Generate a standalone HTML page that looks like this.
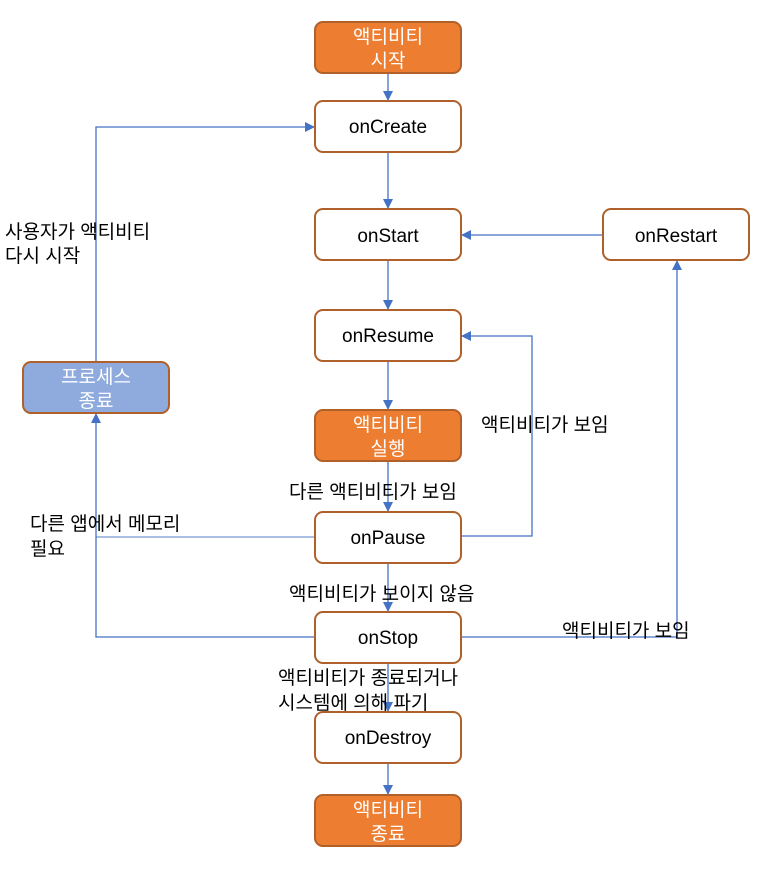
<!DOCTYPE html>
<html><head><meta charset="utf-8"><style>
html,body{margin:0;padding:0;background:#fff;}
svg{display:block;font-family:"Liberation Sans","Noto Sans CJK KR","NanumGothic",sans-serif;}
.b{stroke:#B0602A;stroke-width:2;}
.w{fill:#fff;}
.o{fill:#ED7D31;}
.p{fill:#8FAADC;}
.l{stroke:#4472C4;stroke-width:1.3;fill:none;}
.t{font-size:19px;fill:#000;}
.tw{font-size:19px;fill:#fff;}
</style></head><body>
<svg width="768" height="871" viewBox="0 0 768 871">
<defs><marker id="a" viewBox="0 0 10 10" refX="9" refY="5" markerWidth="10" markerHeight="10" markerUnits="userSpaceOnUse" orient="auto"><path d="M0,0L10,5L0,10z" fill="#4472C4"/></marker></defs>
<!-- connectors -->
<line class="l" x1="388" y1="73" x2="388" y2="100" marker-end="url(#a)"/>
<line class="l" x1="388" y1="152" x2="388" y2="208" marker-end="url(#a)"/>
<line class="l" x1="388" y1="260" x2="388" y2="309" marker-end="url(#a)"/>
<line class="l" x1="388" y1="361" x2="388" y2="409" marker-end="url(#a)"/>
<line class="l" x1="388" y1="461" x2="388" y2="511" marker-end="url(#a)"/>
<line class="l" x1="388" y1="563" x2="388" y2="611" marker-end="url(#a)"/>
<line class="l" x1="388" y1="663" x2="388" y2="711" marker-end="url(#a)"/>
<line class="l" x1="388" y1="763" x2="388" y2="794" marker-end="url(#a)"/>
<line class="l" x1="603" y1="235" x2="462" y2="235" marker-end="url(#a)"/>
<polyline class="l" points="461,536 532,536 532,336 462,336" marker-end="url(#a)"/>
<polyline class="l" points="461,637 677,637 677,261" marker-end="url(#a)"/>
<line x1="96" y1="537" x2="315" y2="537" stroke="#8FAADC" stroke-width="1.5"/>
<polyline class="l" points="315,637 96,637 96,414" marker-end="url(#a)"/>
<polyline class="l" points="96,362 96,127 314,127" marker-end="url(#a)"/>
<!-- boxes -->
<rect class="b o" x="315" y="22" width="146" height="51" rx="8"/>
<rect class="b w" x="315" y="101" width="146" height="51" rx="8"/>
<rect class="b w" x="315" y="209" width="146" height="51" rx="8"/>
<rect class="b w" x="603" y="209" width="146" height="51" rx="8"/>
<rect class="b w" x="315" y="310" width="146" height="51" rx="8"/>
<rect class="b o" x="315" y="410" width="146" height="51" rx="8"/>
<rect class="b w" x="315" y="512" width="146" height="51" rx="8"/>
<rect class="b w" x="315" y="612" width="146" height="51" rx="8"/>
<rect class="b w" x="315" y="712" width="146" height="51" rx="8"/>
<rect class="b o" x="315" y="795" width="146" height="51" rx="8"/>
<rect class="b p" x="23" y="362" width="146" height="51" rx="8"/>
<!-- box text -->
<g text-anchor="middle">
<text class="tw" x="388" y="43">액티비티</text><text class="tw" x="388" y="67">시작</text>
<text class="t" x="388" y="133">onCreate</text>
<text class="t" x="388" y="242">onStart</text>
<text class="t" x="676" y="242">onRestart</text>
<text class="t" x="388" y="342">onResume</text>
<text class="tw" x="388" y="431">액티비티</text><text class="tw" x="388" y="455">실행</text>
<text class="t" x="388" y="544">onPause</text>
<text class="t" x="388" y="644">onStop</text>
<text class="t" x="388" y="744">onDestroy</text>
<text class="tw" x="388" y="816">액티비티</text><text class="tw" x="388" y="840">종료</text>
<text class="tw" x="96" y="383">프로세스</text><text class="tw" x="96" y="407">종료</text>
</g>
<!-- labels -->
<text class="t" x="5" y="238">사용자가 액티비티</text>
<text class="t" x="5" y="262">다시 시작</text>
<text class="t" x="481" y="431">액티비티가 보임</text>
<text class="t" x="289" y="498">다른 액티비티가 보임</text>
<text class="t" x="30" y="530">다른 앱에서 메모리</text>
<text class="t" x="30" y="555">필요</text>
<text class="t" x="289" y="600">액티비티가 보이지 않음</text>
<text class="t" x="562" y="637">액티비티가 보임</text>
<text class="t" x="278" y="684">액티비티가 종료되거나</text>
<text class="t" x="278" y="709">시스템에 의해 파기</text>
</svg>
</body></html>
